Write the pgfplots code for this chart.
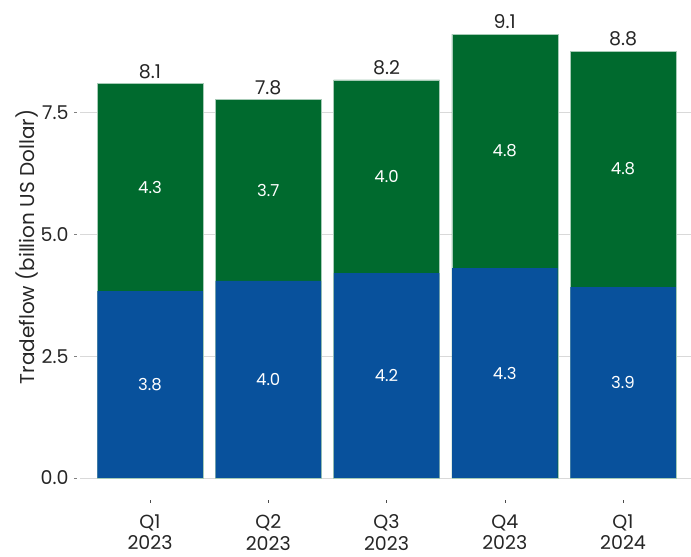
\documentclass[border=0pt]{standalone}
\usepackage{pgfplots}
\pgfplotsset{compat=1.18}
\usepackage{fontspec}
\setmainfont{Poppins}
\definecolor{cblue}{RGB}{8,81,156}
\definecolor{cgreen}{RGB}{0,106,46}
\definecolor{cgrid}{RGB}{217,217,217}
\begin{document}
\begin{tikzpicture}
\useasboundingbox (0pt,0pt) rectangle (691pt,557pt);
\begin{axis}[
  at={(80pt,79pt)}, anchor=south west,
  scale only axis, width=611pt, height=462pt,
  xmin=-0.592, xmax=4.575,
  ymin=0, ymax=9.49,
  axis line style={draw=none},
  major tick length=0pt,
  clip=false,
  ytick={0,2.5,5,7.5},
  xtick={0,1,2,3,4},
  xticklabels={{Q1\\2023},{Q2\\2023},{Q3\\2023},{Q4\\2023},{Q1\\2024}},
  yticklabel style={/pgf/number format/fixed,/pgf/number format/fixed zerofill,/pgf/number format/precision=1, font=\fontsize{19}{21}\selectfont, xshift=-8pt, text=black!85},
  /pgf/number format/assume math mode=true,
  xticklabel style={align=center, font=\fontsize{19}{21.5}\selectfont, yshift=-33pt, text=black!85},
  ylabel={Tradeflow (billion US Dollar)},
  ylabel style={font=\fontsize{20}{22}\selectfont, at={(axis description cs:-0.062,0.5)}, anchor=south, text=black!85},
]
% gridlines
\addplot[cgrid, line width=0.8pt, forget plot] coordinates {(-0.592,0) (4.575,0)};
\addplot[cgrid, line width=0.8pt, forget plot] coordinates {(-0.592,2.5) (4.575,2.5)};
\addplot[cgrid, line width=0.8pt, forget plot] coordinates {(-0.592,5) (4.575,5)};
\addplot[cgrid, line width=0.8pt, forget plot] coordinates {(-0.592,7.5) (4.575,7.5)};
% y tick dashes
\addplot[black!50, line width=0.8pt, forget plot] coordinates {(-0.642,0) (-0.617,0)};
\addplot[black!50, line width=0.8pt, forget plot] coordinates {(-0.642,2.5) (-0.617,2.5)};
\addplot[black!50, line width=0.8pt, forget plot] coordinates {(-0.642,5) (-0.617,5)};
\addplot[black!50, line width=0.8pt, forget plot] coordinates {(-0.642,7.5) (-0.617,7.5)};
% totals (green)
\addplot[ybar, bar width=106pt, bar shift=0pt, fill=cgreen, draw=white!65!cgreen, line width=0.5pt]
  coordinates {(0,8.10) (1,7.77) (2,8.18) (3,9.12) (4,8.77)};
% blue
\addplot[ybar, bar width=105.5pt, bar shift=0pt, fill=cblue, draw=none]
  coordinates {(0,3.84) (1,4.05) (2,4.21) (3,4.31) (4,3.92)};
% labels inside blue
\addplot[draw=none, mark=none, nodes near coords, point meta=explicit symbolic,
  every node near coord/.style={anchor=center, text=white, font=\fontsize{16.5}{18}\selectfont}]
  coordinates {(0,1.92)[3.8] (1,2.025)[4.0] (2,2.105)[4.2] (3,2.155)[4.3] (4,1.96)[3.9]};
% labels inside green
\addplot[draw=none, mark=none, nodes near coords, point meta=explicit symbolic,
  every node near coord/.style={anchor=center, text=white, font=\fontsize{16.5}{18}\selectfont}]
  coordinates {(0,5.97)[4.3] (1,5.91)[3.7] (2,6.195)[4.0] (3,6.715)[4.8] (4,6.345)[4.8]};
% totals labels
\addplot[draw=none, mark=none, nodes near coords, point meta=explicit symbolic,
  every node near coord/.style={anchor=south, inner sep=2pt, yshift=3pt, text=black!85, font=\fontsize{19}{20}\selectfont}]
  coordinates {(0,8.10)[8.1] (1,7.77)[7.8] (2,8.18)[8.2] (3,9.12)[9.1] (4,8.77)[8.8]};
% x tick dots
\addplot[only marks, mark=|, mark size=1.5pt, color=black!70, forget plot]
  coordinates {(0,-0.49) (1,-0.49) (2,-0.49) (3,-0.49) (4,-0.49)};
\end{axis}
\end{tikzpicture}
\end{document}
